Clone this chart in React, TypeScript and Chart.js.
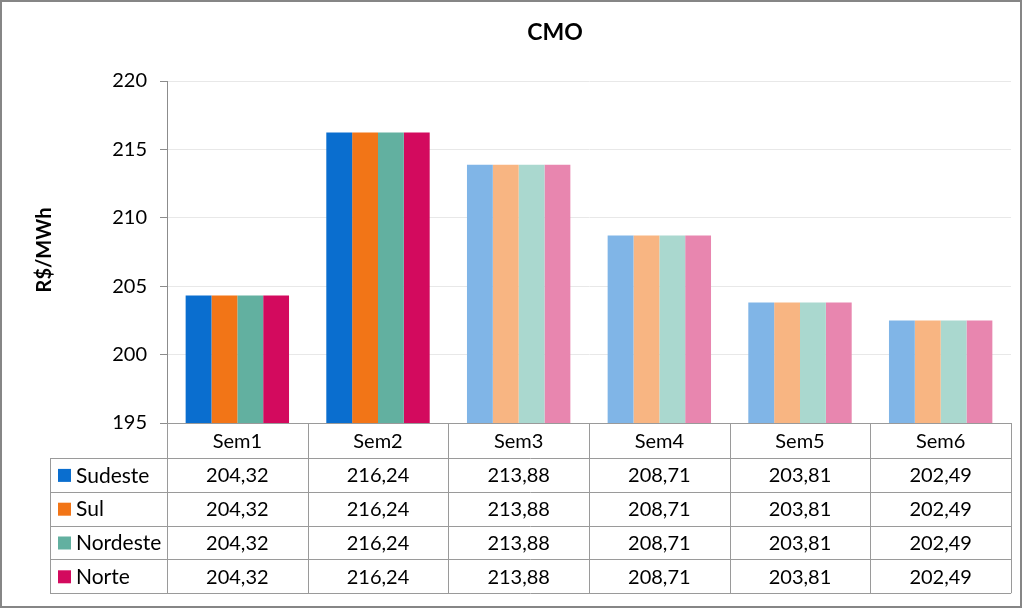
import React, { useEffect, useRef } from "react";
import { Chart, registerables } from "chart.js";

Chart.register(...registerables);

const categories = ["Sem1", "Sem2", "Sem3", "Sem4", "Sem5", "Sem6"];
const seriesNames = ["Sudeste", "Sul", "Nordeste", "Norte"];
const sudeste = [204.32, 216.24, 213.88, 208.71, 203.81, 202.49];
const sul = [204.32, 216.24, 213.88, 208.71, 203.81, 202.49];
const nordeste = [204.32, 216.24, 213.88, 208.71, 203.81, 202.49];
const norte = [204.32, 216.24, 213.88, 208.71, 203.81, 202.49];
const seriesValues = [sudeste, sul, nordeste, norte];
const solidColors = ["#0A6ECF", "#F27517", "#62B0A0", "#D30A5E"];
const lightColors = ["#80B5E7", "#F8B582", "#AAD8CF", "#E886AF"];
const solidWeeks = 2;
const yTicks = [195, 200, 205, 210, 215, 220];

const FONT = "Lato, 'Open Sans', sans-serif";
const fmt = (v: number) => v.toFixed(2).replace(".", ",");

const tablePlugin = {
  id: "tablePlugin",
  afterDraw(chart: any) {
    const ctx = chart.ctx as CanvasRenderingContext2D;
    const x = chart.scales.x;
    const area = chart.chartArea;
    const n = categories.length;
    const colW = (x.right - x.left) / n;
    const top = area.bottom;
    const headerH = 35;
    const rowH = 33.8;
    const tableLeft = 50;
    const tableRight = x.right;
    const bottom = top + headerH + rowH * seriesNames.length;
    ctx.save();
    // outer border
    ctx.strokeStyle = "#868686";
    ctx.lineWidth = 2;
    ctx.strokeRect(1, 1, 1020, 606);
    // table lines
    ctx.strokeStyle = "#9a9a9a";
    ctx.lineWidth = 1;
    ctx.beginPath();
    for (let i = 0; i <= n; i++) {
      const px = Math.round(x.left + colW * i) + 0.5;
      ctx.moveTo(px, top);
      ctx.lineTo(px, bottom);
    }
    ctx.moveTo(tableLeft + 0.5, top + headerH);
    ctx.lineTo(tableLeft + 0.5, bottom);
    for (let r = 0; r <= seriesNames.length; r++) {
      const py = Math.round(top + headerH + rowH * r) + 0.5;
      ctx.moveTo(tableLeft, py);
      ctx.lineTo(tableRight, py);
    }
    ctx.stroke();
    // header
    ctx.fillStyle = "#000";
    ctx.font = `20px ${FONT}`;
    ctx.textAlign = "center";
    ctx.textBaseline = "middle";
    categories.forEach((c, i) => {
      ctx.fillText(c, x.getPixelForValue(i), top + headerH / 2 + 1);
    });
    seriesNames.forEach((name, r) => {
      const cy = top + headerH + rowH * r + rowH / 2 + 1;
      ctx.fillStyle = solidColors[r];
      ctx.fillRect(tableLeft + 8, cy - 7, 13, 13);
      ctx.fillStyle = "#000";
      ctx.textAlign = "left";
      ctx.font = `21px ${FONT}`;
      ctx.fillText(name, tableLeft + 26, cy);
      ctx.textAlign = "center";
      ctx.font = `20px ${FONT}`;
      seriesValues[r].forEach((v, i) => {
        ctx.fillText(fmt(v), x.getPixelForValue(i), cy);
      });
    });
    // title
    ctx.font = `bold 23px ${FONT}`;
    ctx.fillText("CMO", 555, 33);
    // y axis title
    ctx.translate(45, 250);
    ctx.rotate(-Math.PI / 2);
    ctx.font = `bold 20px ${FONT}`;
    ctx.fillText("R$/MWh", 0, 0);
    ctx.restore();
  },
};

export default function App() {
  const ref = useRef<HTMLCanvasElement>(null);
  useEffect(() => {
    document.body.style.margin = "0";
    const chart = new Chart(ref.current!, {
      type: "bar",
      data: {
        labels: categories,
        datasets: seriesNames.map((name, s) => ({
          label: name,
          data: seriesValues[s],
          backgroundColor: categories.map((_, i) =>
            i < solidWeeks ? solidColors[s] : lightColors[s]
          ),
          borderWidth: 0,
          barPercentage: 1,
          categoryPercentage: 0.735,
        })),
      },
      options: {
        animation: false,
        responsive: false,
        events: [],
        layout: { padding: { left: 10, right: 13, top: 81, bottom: 186 } },
        plugins: {
          legend: { display: false },
          title: { display: false },
          tooltip: { enabled: false },
        },
        scales: {
          x: {
            afterFit: (s: any) => {
              s.height = 0;
            },
            grid: { display: false },
            border: { display: true, color: "#9a9a9a" },
            ticks: { display: false },
          },
          y: {
            min: 195,
            max: 220,
            afterFit: (s: any) => {
              s.width = 157;
            },
            afterBuildTicks: (s: any) => {
              s.ticks = yTicks.map((v) => ({ value: v }));
            },
            grid: {
              color: "#e8e8e8",
              tickColor: "#8c8c8c",
              tickLength: 7,
            },
            border: { display: true, color: "#8c8c8c" },
            ticks: {
              color: "#000",
              padding: 13,
              font: { family: FONT, size: 20 },
            },
          },
        },
      },
      plugins: [tablePlugin],
    });
    return () => chart.destroy();
  }, []);
  return (
    <div style={{ position: "absolute", left: 0, top: 0, width: 1024, height: 609 }}>
      <canvas ref={ref} width={1024} height={609} style={{ display: "block" }} />
    </div>
  );
}
